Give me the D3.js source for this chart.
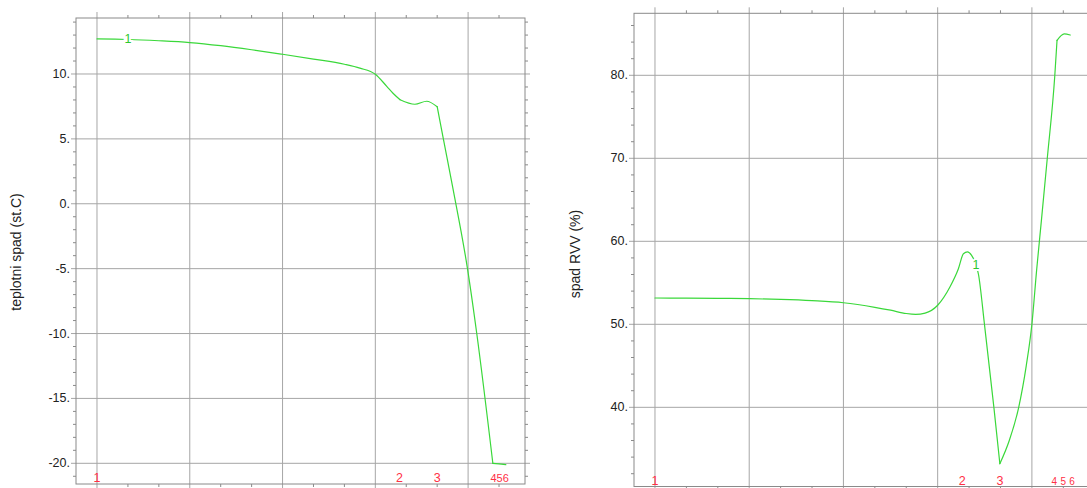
<!DOCTYPE html>
<html><head><meta charset="utf-8">
<script src="https://cdn.jsdelivr.net/npm/d3@7"></script>
<style>body{margin:0;background:#fff}svg{display:block}</style>
</head><body>
<svg id="c" width="1087" height="488"></svg>
<script>
// ---- data ----
const tempX = [0,1,2,3,4,5,6,7,8,8.5,9,9.37,9.58,9.8,10.28,10.66,11.0,11.2,11.5,11.98,12.28,12.8,13.0,13.22];
const tempY = [12.70,12.66,12.56,12.42,12.18,11.87,11.52,11.15,10.75,10.45,9.98,9.05,8.5,8.02,7.67,7.9,7.48,5.0,1.3,-5.0,-10.0,-20.0,-20.05,-20.1];
const rvvX = [0,1,2,3,4,5,6,7,7.5,8.0,8.3,8.6,9.0,9.39,9.66,9.82,9.95,10.08,10.2,10.3,10.49,10.79,10.98,11.28,11.58,11.82,12.0,12.15,12.3,12.49,12.73,12.8,13.03,13.22];
const rvvY = [53.17,53.15,53.13,53.09,53.0,52.85,52.6,52.05,51.7,51.3,51.2,51.35,52.3,54.5,56.7,58.5,58.72,58.3,57.4,56.0,50.0,40.0,33.2,36.0,40.0,45.0,50.0,56.5,62.4,70.0,80.0,84.2,85.0,84.85];
const nodeLabels = ["1","2","3","4","5","6"];
const tempNodeX = [0,9.78,11.0,12.82,13.02,13.22];
const rvvNodeX = [0,9.78,10.98,12.71,13.0,13.28];
const seriesName = "1";
const tempSeriesLabelX = 1.0;
const rvvSeriesLabelX = 10.22;
const tempTicks = [10,5,0,-5,-10,-15,-20];
const tempTickLabels = ["10.","5.","0.","-5.","-10.","-15.","-20."];
const rvvTicks = [80,70,60,50,40];
const rvvTickLabels = ["80.","70.","60.","50.","40."];
const xMajorTicks = [0,3,6,9,12];
const xMinorTicks = [1,2,4,5,7,8,10,11,13];
const tempTitle = "teplotni spad (st.C)";
const rvvTitle = "spad RVV (%)";

const svg = d3.select("#c");
const FONT = "'Liberation Sans', Arial, sans-serif";

function splitAt(pts, kinks) {
  const segs = []; let cur = [];
  pts.forEach(p => {
    cur.push(p);
    if (kinks.some(k => Math.abs(k - p[0]) < 1e-9) && cur.length > 1) { segs.push(cur); cur = [p]; }
  });
  if (cur.length > 1) segs.push(cur);
  return segs;
}

function panel(o) {
  const g = svg.append("g");
  const x = d3.scaleLinear().domain(o.xDomain).range([o.left, o.right]);
  const y = d3.scaleLinear().domain(o.yDomain).range([o.bottom, o.top]);
  const grid = "#a6a6a6", frame = "#8a8a8a";
  g.selectAll(".vg").data(xMajorTicks).join("line")
    .attr("x1", d => x(d)).attr("x2", d => x(d))
    .attr("y1", o.top - 6).attr("y2", o.bottom + 6)
    .attr("stroke", grid).attr("stroke-width", 1);
  g.selectAll(".xm").data(xMinorTicks).join("line")
    .attr("x1", d => x(d)).attr("x2", d => x(d))
    .attr("y1", o.top - 3).attr("y2", o.top)
    .attr("stroke", frame);
  g.selectAll(".xmb").data(xMinorTicks).join("line")
    .attr("x1", d => x(d)).attr("x2", d => x(d))
    .attr("y1", o.bottom).attr("y2", o.bottom + 3)
    .attr("stroke", frame);
  g.selectAll(".hg").data(o.yTicks).join("line")
    .attr("x1", o.left - 5).attr("x2", o.right + 5)
    .attr("y1", d => y(d)).attr("y2", d => y(d))
    .attr("stroke", grid).attr("stroke-width", 1);
  const minors = d3.range(Math.ceil(o.yDomain[0] / o.yMinor) * o.yMinor, o.yDomain[1], o.yMinor)
    .filter(v => !o.yTicks.some(t => Math.abs(t - v) < 1e-9));
  g.selectAll(".ym").data(minors).join("line")
    .attr("x1", o.left - 3).attr("x2", o.left)
    .attr("y1", d => y(d)).attr("y2", d => y(d)).attr("stroke", frame);
  g.selectAll(".ymr").data(minors).join("line")
    .attr("x1", o.right).attr("x2", o.right + 3)
    .attr("y1", d => y(d)).attr("y2", d => y(d)).attr("stroke", frame);
  g.append("rect").attr("x", o.left).attr("y", o.top)
    .attr("width", o.right - o.left).attr("height", o.bottom - o.top)
    .attr("fill", "none").attr("stroke", frame).attr("stroke-width", 1);
  g.selectAll(".tl").data(o.yTicks).join("text")
    .attr("x", o.left - 6).attr("y", d => y(d))
    .attr("text-anchor", "end").attr("dominant-baseline", "central")
    .attr("font-family", FONT).attr("font-size", 12.5).attr("fill", "#222")
    .text((d, i) => o.yTickLabels[i]);
  g.append("text")
    .attr("transform", `translate(${o.titleX},${o.titleY}) rotate(-90)`)
    .attr("text-anchor", "middle").attr("dominant-baseline", "central")
    .attr("font-family", FONT).attr("font-size", 14).attr("fill", "#222")
    .text(o.title);
  const pts = o.xs.map((v, i) => [v, o.ys[i]]);
  const line = d3.line().x(d => x(d[0])).y(d => y(d[1])).curve(d3.curveMonotoneX);
  g.selectAll(".seg").data(splitAt(pts, o.kinks)).join("path")
    .attr("d", line)
    .attr("fill", "none").attr("stroke", "#3ad83a").attr("stroke-width", 1.2)
    .attr("stroke-linejoin", "round").attr("stroke-linecap", "round");
  const ly = d3.scaleLinear().domain(o.xs).range(o.ys)(o.seriesX);
  g.append("text")
    .attr("x", x(o.seriesX)).attr("y", y(ly))
    .attr("text-anchor", "middle").attr("dominant-baseline", "central")
    .attr("font-family", FONT).attr("font-size", 12.5).attr("fill", "#2ec82e")
    .attr("stroke", "#fff").attr("stroke-width", 4).attr("paint-order", "stroke")
    .text(seriesName);
  g.selectAll(".nl").data(nodeLabels).join("text")
    .attr("x", (d, i) => x(o.nodeX[i])).attr("y", o.bottom - 2)
    .attr("text-anchor", "middle")
    .attr("font-family", FONT).attr("font-size", (d, i) => i >= 3 ? o.smallFont : 12.5)
    .attr("fill", "#ff3045")
    .text(d => d);
}

panel({
  left: 76, right: 525, top: 18, bottom: 484,
  xDomain: [-0.679, 13.84], yDomain: [-21.595, 14.315],
  yTicks: tempTicks, yTickLabels: tempTickLabels, yMinor: 1,
  xs: tempX, ys: tempY, nodeX: tempNodeX, seriesX: tempSeriesLabelX,
  kinks: [9.8, 11.0, 12.8],
  title: tempTitle, titleX: 16, titleY: 252, smallFont: 11
});
panel({
  left: 634, right: 1090, top: 13.3, bottom: 486.5,
  xDomain: [-0.668, 13.85], yDomain: [30.46, 87.47],
  yTicks: rvvTicks, yTickLabels: rvvTickLabels, yMinor: 2,
  xs: rvvX, ys: rvvY, nodeX: rvvNodeX, seriesX: rvvSeriesLabelX,
  kinks: [10.98, 12.8],
  title: rvvTitle, titleX: 575, titleY: 254, smallFont: 10
});
</script>
</body></html>
